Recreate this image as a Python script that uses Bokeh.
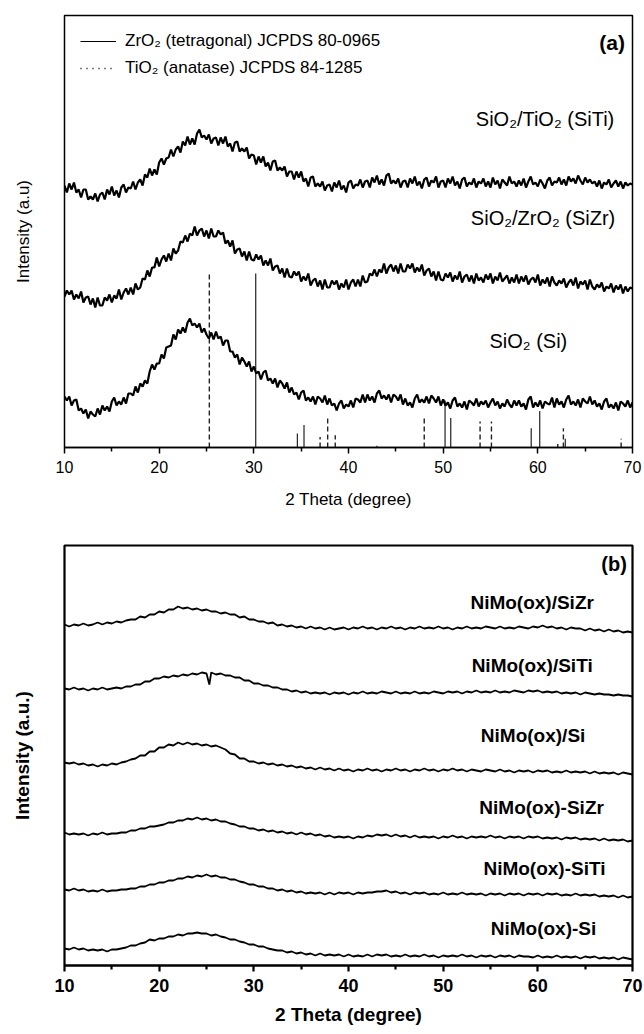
import numpy as np
from bokeh.plotting import figure
from bokeh.models import Range1d, FixedTicker, Legend, LegendItem
from bokeh.layouts import column
from bokeh.embed import file_html
from bokeh.resources import INLINE
from bokeh.core.properties import value

FONT = "Liberation Sans"

# ---------------- panel (a) data : 2theta 10..70, step 0.25 ----------------
si_a = [51, 47, 51, 42, 47, 48, 37, 39, 34, 38, 29, 36, 33, 31, 39, 33,
        42, 37, 41, 36, 46, 50, 42, 46, 43, 50, 44, 54, 54, 52, 61, 55,
        64, 61, 67, 64, 76, 83, 78, 84, 84, 93, 89, 100, 101, 102, 113, 108,
        118, 114, 120, 115, 125, 129, 122, 124, 120, 124, 115, 119, 113, 109, 115, 108,
        116, 109, 111, 102, 107, 107, 96, 96, 90, 93, 83, 90, 86, 81, 86, 76,
        81, 74, 76, 68, 75, 77, 67, 69, 64, 69, 60, 67, 64, 59, 65, 55,
        60, 53, 55, 48, 55, 57, 47, 50, 46, 51, 43, 51, 49, 45, 52, 43,
        49, 42, 44, 37, 44, 47, 39, 43, 41, 47, 40, 49, 48, 45, 53, 45,
        53, 47, 51, 45, 54, 57, 49, 52, 48, 53, 45, 53, 51, 47, 53, 43,
        49, 42, 45, 40, 49, 53, 45, 48, 45, 51, 44, 52, 49, 45, 51, 42,
        48, 42, 45, 39, 47, 50, 41, 44, 40, 46, 38, 47, 45, 42, 49, 41,
        46, 43, 47, 40, 45, 49, 42, 46, 39, 44, 41, 48, 43, 40, 47, 42,
        47, 41, 44, 38, 48, 51, 40, 45, 41, 47, 39, 46, 44, 43, 50, 40,
        49, 43, 46, 40, 48, 52, 43, 46, 42, 48, 40, 49, 46, 44, 51, 43,
        47, 41, 44, 38, 46, 49, 40, 43, 39, 45, 37, 46, 44, 41, 47, 40,
        45]
sizr_a = [36, 42, 38, 42, 33, 38, 34, 41, 30, 35, 36, 28, 34, 25, 35, 27,
          27, 35, 32, 38, 30, 37, 34, 43, 33, 40, 44, 38, 45, 38, 49, 43,
          45, 54, 53, 62, 56, 65, 65, 75, 66, 73, 77, 71, 79, 72, 84, 79,
          82, 91, 90, 97, 91, 99, 97, 106, 97, 102, 104, 96, 102, 94, 104, 96,
          96, 102, 98, 100, 89, 92, 86, 92, 79, 83, 84, 76, 81, 72, 81, 73,
          72, 78, 73, 77, 67, 72, 67, 74, 62, 66, 67, 59, 64, 55, 64, 56,
          55, 61, 57, 61, 51, 56, 52, 59, 47, 52, 54, 46, 52, 43, 53, 45,
          45, 52, 48, 52, 43, 49, 45, 53, 43, 50, 53, 46, 53, 46, 57, 50,
          51, 59, 57, 63, 56, 63, 60, 69, 59, 65, 68, 61, 67, 59, 69, 61,
          61, 68, 64, 69, 60, 65, 61, 68, 57, 62, 64, 56, 61, 52, 61, 53,
          52, 59, 55, 60, 51, 57, 53, 61, 50, 56, 58, 51, 57, 49, 59, 52,
          55, 50, 58, 53, 59, 49, 56, 52, 60, 51, 54, 57, 49, 55, 50, 58,
          49, 56, 51, 57, 48, 53, 55, 50, 58, 47, 53, 49, 55, 46, 56, 50,
          47, 52, 49, 54, 45, 50, 53, 47, 55, 44, 51, 48, 52, 43, 53, 46,
          43, 48, 45, 50, 41, 46, 44, 49, 40, 47, 43, 48, 39, 46, 41, 45,
          44]
siti_a = [42, 35, 44, 38, 45, 35, 38, 30, 38, 38, 28, 31, 28, 34, 26, 33,
          35, 28, 38, 33, 41, 32, 37, 30, 40, 43, 35, 40, 39, 46, 38, 45,
          48, 42, 53, 50, 59, 52, 58, 53, 65, 69, 63, 69, 70, 78, 71, 78,
          81, 75, 86, 82, 91, 83, 89, 83, 94, 98, 90, 92, 88, 93, 84, 89,
          90, 82, 90, 84, 91, 81, 84, 76, 85, 86, 76, 79, 76, 80, 69, 73,
          72, 63, 71, 65, 71, 61, 65, 57, 66, 67, 57, 60, 57, 61, 51, 56,
          56, 48, 56, 50, 56, 46, 49, 41, 50, 51, 41, 44, 41, 46, 37, 42,
          43, 36, 45, 40, 47, 38, 42, 35, 45, 47, 39, 43, 42, 48, 40, 46,
          47, 40, 50, 45, 52, 43, 48, 42, 52, 54, 44, 47, 44, 49, 40, 46,
          47, 40, 49, 44, 51, 42, 46, 39, 48, 50, 41, 47, 45, 51, 40, 46,
          47, 40, 49, 44, 51, 42, 46, 39, 48, 50, 41, 45, 43, 49, 40, 46,
          44, 49, 41, 46, 40, 50, 43, 47, 39, 48, 45, 42, 51, 44, 46, 41,
          47, 42, 49, 40, 46, 51, 43, 45, 41, 48, 44, 39, 47, 50, 42, 46,
          45, 50, 43, 48, 42, 51, 46, 49, 44, 52, 47, 43, 50, 45, 48, 44,
          46, 41, 47, 39, 45, 43, 48, 40, 44, 47, 41, 46, 39, 45, 42, 44,
          43]
series_a = [si_a, sizr_a, siti_a]
offsets_a = [0, 115, 220]
labels_a = ["SiO\u2082 (Si)", "SiO\u2082/ZrO\u2082 (SiZr)", "SiO\u2082/TiO\u2082 (SiTi)"]

zro2_pos = [30.2, 34.6, 35.3, 43.0, 50.2, 50.8, 59.3, 60.2, 62.9]
zro2_int = [100, 8, 13, 1, 27, 17, 11, 21, 5]
tio2_pos = [25.3, 37.0, 37.8, 38.6, 48.0, 53.9, 55.1, 62.1, 62.7, 68.8]
tio2_int = [100, 6, 18, 7, 18, 15, 15, 2, 11, 5]

# ---------------- panel (b) data : 2theta 10..70, step 0.5 ----------------
ox_sizr = [14, 12, 14, 13, 15, 13, 14, 16, 14, 16, 15, 17, 16, 18, 19, 19, 22, 21, 24, 24,
           27, 26, 29, 29, 32, 30, 31, 29, 30, 28, 29, 27, 27, 25, 26, 24, 24, 21, 22, 19,
           19, 17, 17, 15, 16, 13, 14, 12, 13, 11, 12, 10, 12, 10, 11, 9, 11, 9, 10, 11,
           9, 11, 10, 12, 10, 11, 9, 11, 10, 12, 10, 11, 9, 11, 10, 12, 10, 11, 10, 12,
           10, 11, 9, 11, 10, 12, 10, 11, 10, 12, 11, 10, 12, 10, 11, 10, 12, 11, 10, 12,
           11, 13, 11, 12, 10, 11, 9, 11, 10, 10, 8, 10, 8, 9, 7, 9, 7, 8, 6, 7,
           6]
x_ox_siti = [10.0, 10.5, 11.0, 11.5, 12.0, 12.5, 13.0, 13.5, 14.0, 14.5, 15.0, 15.5, 16.0,
             16.5, 17.0, 17.5, 18.0, 18.5, 19.0, 19.5, 20.0, 20.5, 21.0, 21.5, 22.0, 22.5,
             23.0, 23.5, 24.0, 24.5, 25.0, 25.3] + list(np.arange(25.5, 70.25, 0.5))
ox_siti = [15, 14, 16, 14, 15, 13, 15, 14, 16, 14, 15, 16, 15, 17, 17, 19, 19, 22, 22, 25,
           25, 27, 26, 28, 27, 29, 28, 30, 29, 31, 30, 19,
           31, 29, 30, 28, 28, 26, 26, 23, 23, 20, 20, 18, 18, 16, 16, 14, 14, 12, 13, 11,
           12, 10, 11, 10, 11, 9, 11, 10, 11, 9, 11, 10, 12, 10, 11, 10, 12, 11, 10, 12,
           10, 11, 10, 12, 10, 11, 10, 12, 11, 10, 12, 11, 12, 10, 12, 11, 13, 11, 12, 11,
           13, 11, 12, 11, 13, 12, 11, 13, 12, 13, 11, 12, 11, 12, 10, 11, 10, 11, 9, 11,
           10, 9, 10, 9, 9, 8, 9, 8, 8, 7]
ox_si = [18, 17, 18, 16, 17, 15, 16, 14, 16, 15, 17, 16, 18, 19, 21, 22, 25, 25, 29, 29,
         33, 33, 36, 35, 38, 36, 38, 36, 37, 35, 36, 34, 35, 33, 31, 27, 26, 22, 22, 19,
         19, 17, 18, 16, 17, 15, 16, 14, 15, 13, 14, 12, 13, 11, 13, 11, 12, 10, 12, 10,
         11, 9, 11, 10, 12, 10, 11, 9, 11, 10, 12, 10, 11, 9, 11, 10, 12, 10, 11, 9,
         11, 10, 12, 10, 11, 9, 11, 10, 9, 11, 10, 9, 11, 9, 10, 8, 10, 9, 10, 8,
         10, 9, 10, 8, 9, 8, 10, 8, 9, 8, 9, 7, 9, 7, 8, 7, 8, 6, 8, 7,
         6]
imp_sizr = [15, 13, 14, 13, 14, 12, 14, 13, 15, 13, 14, 14, 15, 15, 17, 17, 19, 19, 21, 21,
            22, 23, 25, 25, 27, 27, 29, 28, 30, 28, 29, 27, 28, 26, 26, 24, 23, 21, 21, 19,
            19, 17, 18, 16, 17, 15, 16, 14, 15, 13, 15, 13, 14, 12, 13, 11, 12, 10, 11, 10,
            11, 9, 11, 10, 12, 11, 13, 12, 13, 11, 13, 11, 12, 10, 12, 10, 11, 10, 11, 9,
            11, 10, 12, 10, 11, 9, 11, 10, 11, 10, 12, 10, 11, 9, 11, 10, 11, 9, 11, 10,
            11, 9, 10, 9, 10, 8, 10, 9, 10, 8, 9, 8, 9, 7, 9, 7, 8, 7, 8, 6,
            7]
imp_siti = [14, 13, 15, 13, 14, 12, 13, 12, 14, 12, 13, 13, 14, 14, 15, 15, 17, 17, 19, 19,
            21, 21, 23, 23, 25, 25, 27, 26, 28, 27, 29, 27, 28, 26, 26, 24, 24, 22, 21, 19,
            19, 17, 17, 15, 15, 13, 14, 12, 13, 11, 12, 10, 11, 10, 11, 9, 11, 9, 11, 10,
            11, 9, 11, 10, 11, 11, 12, 12, 13, 11, 12, 10, 11, 9, 11, 10, 11, 9, 10, 9,
            11, 9, 10, 9, 11, 9, 10, 9, 10, 8, 10, 9, 10, 8, 10, 9, 10, 8, 10, 9,
            10, 8, 10, 9, 10, 8, 9, 8, 10, 8, 9, 8, 9, 7, 8, 7, 8, 6, 8, 6,
            7]
imp_si = [17, 16, 18, 16, 17, 15, 16, 15, 16, 14, 16, 16, 17, 18, 20, 20, 22, 23, 26, 25,
          27, 27, 29, 29, 31, 30, 32, 32, 33, 32, 32, 30, 31, 29, 28, 26, 26, 24, 23, 21,
          21, 19, 19, 17, 16, 15, 15, 13, 14, 12, 13, 11, 12, 10, 12, 10, 11, 10, 11, 9,
          11, 9, 10, 9, 11, 9, 11, 10, 11, 9, 10, 9, 11, 9, 10, 9, 11, 9, 10, 8,
          10, 9, 10, 9, 11, 9, 10, 8, 10, 9, 10, 8, 10, 9, 10, 8, 10, 9, 9, 8,
          10, 8, 9, 8, 10, 8, 9, 8, 9, 7, 9, 8, 9, 7, 8, 7, 8, 6, 8, 7,
          6]
series_b = [ox_sizr, ox_siti, ox_si, imp_sizr, imp_siti, imp_si]
offsets_b = [327, 262, 185, 118, 62, 0]
labels_b = ["NiMo(ox)/SiZr", "NiMo(ox)/SiTi", "NiMo(ox)/Si",
            "NiMo(ox)-SiZr", "NiMo(ox)-SiTi", "NiMo(ox)-Si"]

major_ticks = [10, 20, 30, 40, 50, 60, 70]
minor_ticks = [15, 25, 35, 45, 55, 65]


def style_axes(p, bold, lw, tick_fs, title_fs, xtitle, ytitle, lab_standoff, title_standoff, y_standoff):
    style = "bold" if bold else "normal"
    p.xgrid.visible = False
    p.ygrid.visible = False
    p.outline_line_color = "black"
    p.outline_line_width = lw
    p.outline_line_alpha = 1
    p.background_fill_color = "white"
    p.border_fill_color = "white"
    xa = p.xaxis[0]
    xa.ticker = FixedTicker(ticks=major_ticks, minor_ticks=minor_ticks)
    xa.axis_line_width = lw
    xa.major_tick_line_width = lw
    xa.minor_tick_line_width = lw
    xa.major_tick_out = 6
    xa.major_tick_in = 0
    xa.minor_tick_out = 4
    xa.minor_tick_in = 0
    xa.major_label_text_font = FONT
    xa.major_label_text_font_size = tick_fs
    xa.major_label_text_font_style = style
    xa.major_label_text_color = "black"
    xa.major_label_standoff = lab_standoff
    xa.axis_label = xtitle
    xa.axis_label_text_font = FONT
    xa.axis_label_text_font_size = title_fs
    xa.axis_label_text_font_style = style
    xa.axis_label_text_color = "black"
    xa.axis_label_standoff = title_standoff
    ya = p.yaxis[0]
    ya.ticker = FixedTicker(ticks=[])
    ya.axis_line_color = None
    ya.major_tick_out = 0
    ya.major_tick_in = 0
    ya.minor_tick_out = 0
    ya.major_label_standoff = 0
    ya.axis_label = ytitle
    ya.axis_label_text_font = FONT
    ya.axis_label_text_font_size = title_fs
    ya.axis_label_text_font_style = style
    ya.axis_label_text_color = "black"
    ya.axis_label_standoff = y_standoff


# ---------------- figure (a) ----------------
fa = figure(width=644, height=520, x_range=Range1d(10, 70), y_range=Range1d(0, 432),
            output_backend="svg", toolbar_location=None,
            min_border_left=64, min_border_right=8, min_border_top=15, min_border_bottom=73)
style_axes(fa, False, 1.5, "16px", "17px", "2 Theta (degree)", "Intensity (a.u)", 7, 14, 32)

stick_scale = 1.74
fa.segment(x0=zro2_pos, y0=[0] * len(zro2_pos), x1=zro2_pos,
           y1=[v * stick_scale for v in zro2_int], line_color="#222222", line_width=1.2)
fa.segment(x0=tio2_pos, y0=[0] * len(tio2_pos), x1=tio2_pos,
           y1=[v * stick_scale for v in tio2_int], line_color="#222222", line_width=1.4,
           line_dash="5 3")

for ys, off in zip(series_a, offsets_a):
    xs = np.linspace(10, 70, len(ys))
    fa.line(xs, np.array(ys) + off, line_color="black", line_width=2.2)

fa.text(x=[59.0, 60.55, 60.76], y=[107, 230, 329], text=labels_a,
        text_font=value(FONT), text_font_size="20px", text_align="center",
        text_baseline="middle", text_color="black")
fa.text(x=[69.2], y=[405], text=["(a)"], text_font=value(FONT), text_font_size="21px",
        text_font_style="bold", text_align="right", text_baseline="middle", text_color="black")

r_solid = fa.line(x=[0, 1], y=[-50, -50], line_color="black", line_width=1.2)
r_dot = fa.line(x=[0, 1], y=[-50, -50], line_color="black", line_width=1.5, line_dash="1 5")
leg = Legend(items=[LegendItem(label="ZrO\u2082 (tetragonal) JCPDS 80-0965", renderers=[r_solid]),
                    LegendItem(label="TiO\u2082 (anatase) JCPDS 84-1285", renderers=[r_dot])],
             location="top_left", margin=16, padding=0, spacing=7, glyph_width=36,
             glyph_height=20, label_height=20, label_standoff=9,
             label_text_font=FONT, label_text_font_size="17px", label_text_color="black",
             border_line_color=None, background_fill_alpha=0)
fa.add_layout(leg)

# ---------------- figure (b) ----------------
fb = figure(width=644, height=514, x_range=Range1d(10, 70), y_range=Range1d(0, 420),
            output_backend="svg", toolbar_location=None,
            min_border_left=63, min_border_right=12, min_border_top=25, min_border_bottom=69)
style_axes(fb, True, 2.2, "18px", "19px", "2 Theta (degree)", "Intensity (a.u.)", 7, 9, 32)

for ys, off, name in zip(series_b, offsets_b, labels_b):
    if name == "NiMo(ox)/SiTi":
        xs = np.array(x_ox_siti[:len(ys)])
    else:
        xs = np.linspace(10, 70, len(ys))
    fb.line(xs, np.array(ys) + off, line_color="black", line_width=1.8)

fb.text(x=[59.4, 59.4, 59.5, 60.4, 60.7, 60.6], y=[363, 300, 230, 158, 97, 37], text=labels_b,
        text_font=value(FONT), text_font_size="19px", text_font_style="bold",
        text_align="center", text_baseline="middle", text_color="black")
fb.text(x=[69.4], y=[402], text=["(b)"], text_font=value(FONT), text_font_size="20px",
        text_font_style="bold", text_align="right", text_baseline="middle", text_color="black")

layout = column(fa, fb, spacing=0)
open("out.html", "w").write(file_html(layout, INLINE))
